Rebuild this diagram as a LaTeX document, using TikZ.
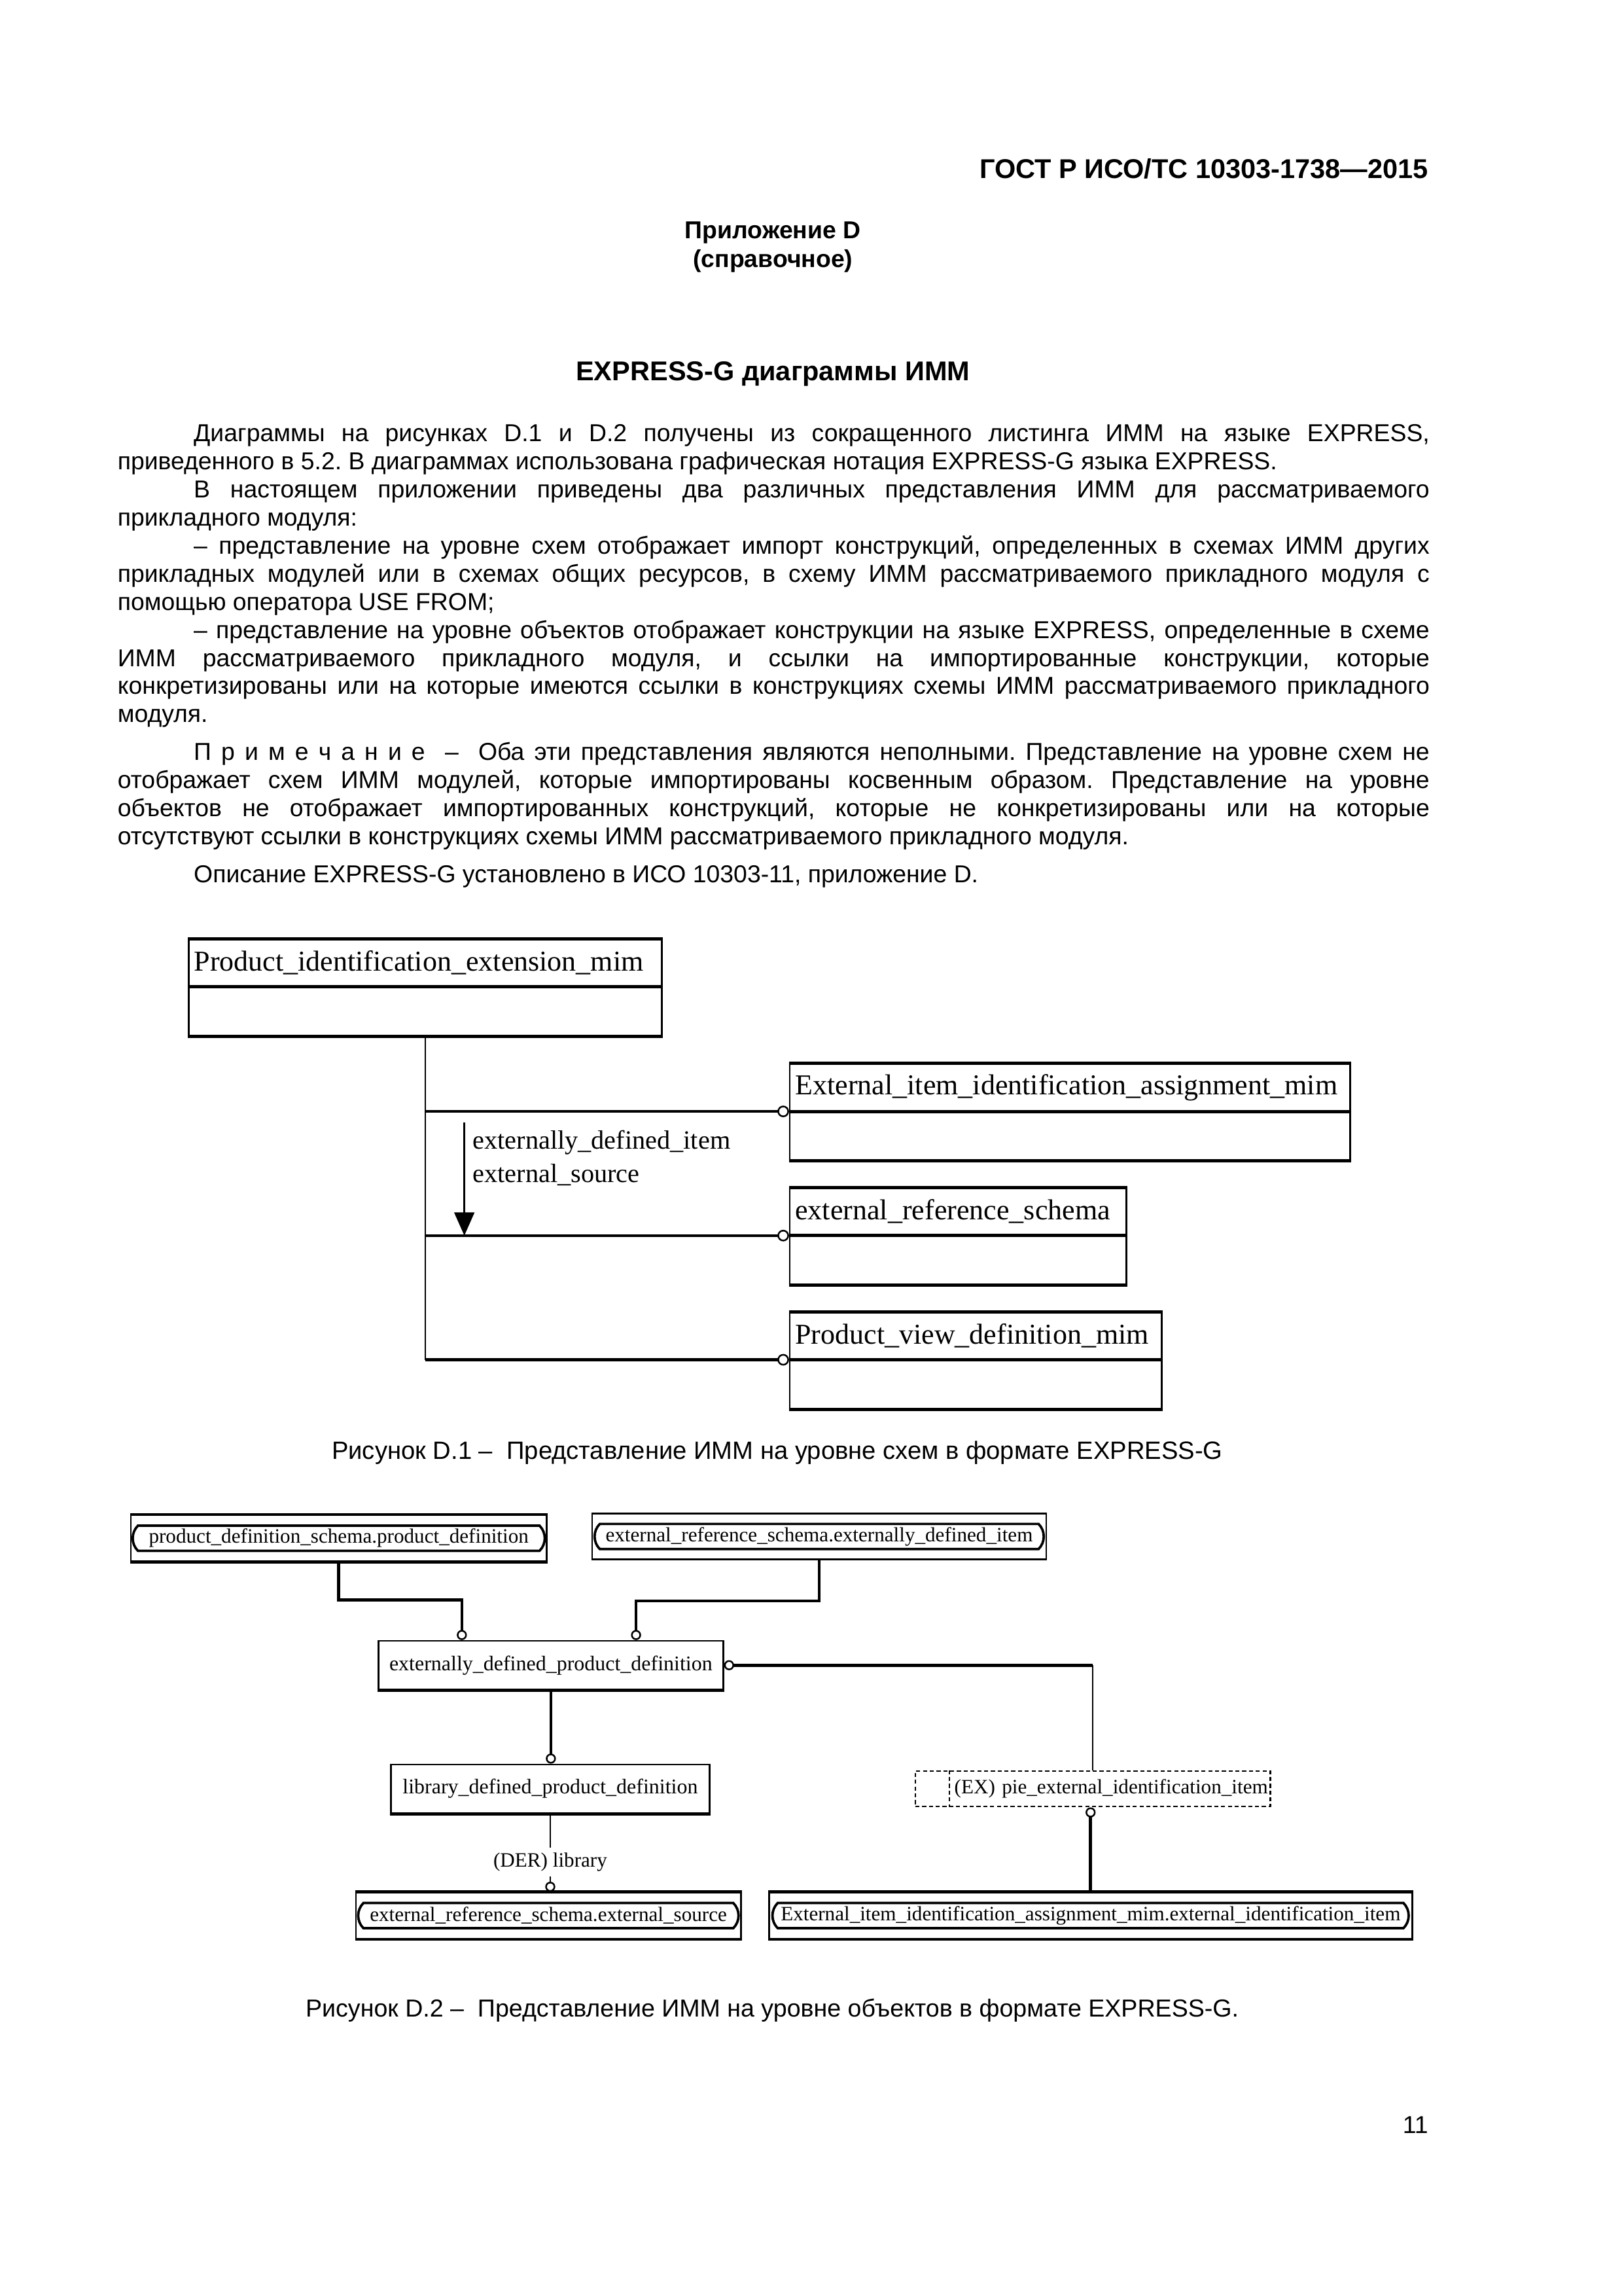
\documentclass[tikz,border=0pt]{standalone}
\usepackage{fontspec}
\setmainfont{Liberation Sans}
\newfontfamily\exgfont{Liberation Serif}
\usetikzlibrary{positioning, arrows.meta, calc, shapes.misc}
\frenchspacing

\begin{document}
\begin{tikzpicture}[x=0.18936mm, y=-0.18936mm,
    every node/.style={inner sep=0pt},
    pagetext/.style={font=\fontsize{9}{10.33}\selectfont},
    headtext/.style={font=\bfseries\fontsize{10}{11}\selectfont},
    thinline/.style={line width=0.6pt},
    hairline/.style={line width=0.35pt},
    heavy/.style={line width=1.1pt},
    ring/.style={-{Circle[open, length=1.3mm, line width=0.6pt]}},
    schemahead/.style={rectangle, draw, line width=0.6pt, anchor=north west, minimum height=6mm,
      inner xsep=0.7mm, align=left, font=\exgfont\fontsize{10.6}{12}\selectfont},
    schemabody/.style={rectangle, draw, line width=0.6pt, anchor=north west, minimum height=6.2mm},
    rolelabel/.style={align=left, font=\exgfont\fontsize{9.7}{12.3}\selectfont},
    entbox/.style={rectangle, draw, line width=0.6pt, minimum height=6.3mm, font=\exgfont\fontsize{7.7}{9}\selectfont},
    selbox/.style={rectangle, draw, dash pattern=on 1.5pt off 1pt, line width=0.6pt, minimum height=4.6mm,
      text width=45.3mm, inner xsep=0.3mm, align=right, font=\exgfont\fontsize{7.5}{9}\selectfont},
    usedbox/.style={rectangle, draw, line width=0.6pt, minimum height=5.95mm},
    usedband/.style={rounded rectangle, rounded rectangle arc length=90, draw, line width=0.9pt,
      minimum height=3.25mm, font=\exgfont\fontsize{7.5}{9}\selectfont}
  ]
  \useasboundingbox (0,0) rectangle (1109,1568);

  % page head
  \node[headtext, anchor=base east] (gost) at (976,122) {ГОСТ Р ИСО/ТС 10303-1738—2015};
  \node[font=\bfseries\fontsize{9}{10.33}\selectfont, anchor=base] (annex) at (528,163) {Приложение D};
  \node[font=\bfseries\fontsize{9}{10.33}\selectfont, anchor=base] (annexkind) at (528,182.5) {(справочное)};
  \node[headtext, anchor=base] (title) at (528,260) {EXPRESS-G диаграммы ИММ};

  % text of the annex
  \node[pagetext, anchor=north west, text width=169.7mm, align=justify] (body) at (80,289.6) {%
    \parindent=0pt\hyphenpenalty=10000
    \hspace*{9.85mm}Диаграммы на рисунках D.1 и D.2 получены из сокращенного листинга ИММ на языке EXPRESS,\linebreak
    приведенного в 5.2. В диаграммах использована графическая нотация EXPRESS-G языка EXPRESS.\par
    \hspace*{9.85mm}В настоящем приложении приведены два различных представления ИММ для рассматриваемого\linebreak
    прикладного модуля:\par
    \hspace*{9.85mm}– представление на уровне схем отображает импорт конструкций, определенных в схемах ИММ других\linebreak
    прикладных модулей или в схемах общих ресурсов, в схему ИММ рассматриваемого прикладного модуля с\linebreak
    помощью оператора USE FROM;\par
    \hspace*{9.85mm}– представление на уровне объектов отображает конструкции на языке EXPRESS, определенные в схеме\linebreak
    ИММ рассматриваемого прикладного модуля, и ссылки на импортированные конструкции, которые\linebreak
    конкретизированы или на которые имеются ссылки в конструкциях схемы ИММ рассматриваемого прикладного\linebreak
    модуля.\par\vspace{1.29mm}
    \hspace*{9.85mm}П р и м е ч а н и е \ – \ Оба эти представления являются неполными. Представление на уровне схем не\linebreak
    отображает схем ИММ модулей, которые импортированы косвенным образом. Представление на уровне\linebreak
    объектов не отображает импортированных конструкций, которые не конкретизированы или на которые\linebreak
    отсутствуют ссылки в конструкциях схемы ИММ рассматриваемого прикладного модуля.\par\vspace{1.29mm}
    \hspace*{9.85mm}Описание EXPRESS-G установлено в ИСО 10303-11, приложение D.\par};

  % D.1: schema level
  \node[schemahead, minimum width=61.2mm, text width=59.8mm] (pieh) at (128.3,641.2) {Product\_identification\_extension\_mim};
  \node[schemabody, minimum width=61.2mm] (pieb) at (pieh.south west) {};
  \node[schemahead, minimum width=72.5mm, text width=71.1mm] (eiiah) at (539,726.2) {External\_item\_identification\_assignment\_mim};
  \node[schemabody, minimum width=72.5mm] (eiiab) at (eiiah.south west) {};
  \node[schemahead, minimum width=43.55mm, text width=42.15mm] (ersh) at (539,811) {external\_reference\_schema};
  \node[schemabody, minimum width=43.55mm] (ersb) at (ersh.south west) {};
  \node[schemahead, minimum width=48.1mm, text width=46.7mm] (pvdh) at (539,895.8) {Product\_view\_definition\_mim};
  \node[schemabody, minimum width=48.1mm] (pvdb) at (pvdh.south west) {};
  \foreach \s in {pie,eiia,ers,pvd}
    \draw[heavy] (\s h.north west) -- (\s h.north east) (\s h.south west) -- (\s h.south east)
                 (\s b.south west) -- (\s b.south east);

  \draw[thinline] (pieb.south) -- (pieb.south |- pvdh.south west);
  \draw[heavy, -{Circle[open, length=1.5mm, line width=0.6pt]}] (pieb.south |- eiiah.south west) -- (eiiah.south west);
  \draw[heavy, -{Circle[open, length=1.5mm, line width=0.6pt]}] (pieb.south |- ersh.south west) -- (ersh.south west);
  \draw[heavy, -{Circle[open, length=1.5mm, line width=0.6pt]}] (pieb.south |- pvdh.south west) -- (pvdh.south west);

  \coordinate (roletop) at (317.2,766.6);
  \draw[thinline, -{Triangle[length=3mm, width=2.6mm]}] (roletop) -- (roletop |- ersh.south west);
  \node[rolelabel, anchor=north west] (roles) at (322.6,771.5) {externally\_defined\_item\\external\_source};

  \node[font=\fontsize{9.2}{10.33}\selectfont, anchor=base] (cap1) at (531,996.5) {Рисунок D.1 –\ \ Представление ИММ на уровне схем в формате EXPRESS-G};

  % D.2: entity level
  \node[usedbox, minimum width=53.76mm] (pds) at (231.4,1050.5) {};
  \node[usedband, minimum width=53.3mm] (pdsband) at (pds.center) {product\_definition\_schema.product\_definition};
  \node[usedbox, minimum width=58.7mm] (ersedi) at (559.6,1049.3) {};
  \node[usedband, minimum width=58.1mm] (ersediband) at (ersedi.center) {external\_reference\_schema.externally\_defined\_item};
  \draw[heavy] (pds.north west) -- (pds.north east) (pds.south west) -- (pds.south east);

  \node[entbox, minimum width=44.6mm] (edpd) at (376.3,1137.2) {externally\_defined\_product\_definition};
  \node[entbox, minimum width=41.2mm] (ldpd) at (375.9,1221.6) {library\_defined\_product\_definition};
  \node[selbox] (piei) at (746.5,1221.6) {(EX) pie\_external\_identification\_item};
  \draw[thinline, dash pattern=on 1.5pt off 1pt] ([xshift=4.5mm]piei.north west) -- ([xshift=4.5mm]piei.south west);
  \draw[heavy] (edpd.south west) -- (edpd.south east) (ldpd.south west) -- (ldpd.south east);

  \node[usedbox, minimum width=49.8mm] (erses) at (374.6,1308.2) {};
  \node[usedband, minimum width=49.2mm] (ersesband) at (erses.center) {external\_reference\_schema.external\_source};
  \node[usedbox, minimum width=83.2mm] (eiiaei) at (745,1308.2) {};
  \node[usedband, minimum width=82.3mm] (eiiaeiband) at (eiiaei.center) {External\_item\_identification\_assignment\_mim.external\_identification\_item};
  \draw[heavy] (erses.north west) -- (erses.north east) (erses.south west) -- (erses.south east)
               (eiiaei.north west) -- (eiiaei.north east) (eiiaei.south west) -- (eiiaei.south east);

  \coordinate (bendA) at (315.5,1092.6);
  \coordinate (bendB) at (434.5,1093.2);
  \draw[heavy, ring] (pds.south) |- (bendA) -- (bendA |- edpd.north);
  \draw[heavy, ring] (ersedi.south) |- (bendB) -- (bendB |- edpd.north);
  \draw[heavy, ring] (edpd.south) -- (edpd.south |- ldpd.north);
  \coordinate (bendC) at (piei.north |- edpd.east);
  \draw[heavy, {Circle[open, length=1.3mm, line width=0.6pt]}-] (edpd.east) -- (bendC);
  \draw[thinline] (bendC) -- (piei.north);
  \node[font=\exgfont\fontsize{7.5}{9}\selectfont, inner ysep=0.6mm] (der) at (375.9,1271.5) {(DER) library};
  \draw[hairline] (ldpd.south) -- (der.north);
  \draw[hairline, ring] (der.south) -- (der.south |- erses.north);
  \draw[heavy, ring] (eiiaei.north) -- (eiiaei.north |- piei.south);

  \node[font=\fontsize{9.05}{10.33}\selectfont, anchor=base] (cap2) at (527.5,1377.5) {Рисунок D.2 –\ \ Представление ИММ на уровне объектов в формате EXPRESS-G.};

  \node[pagetext, anchor=base east] (pageno) at (976,1457) {11};
\end{tikzpicture}
\end{document}
